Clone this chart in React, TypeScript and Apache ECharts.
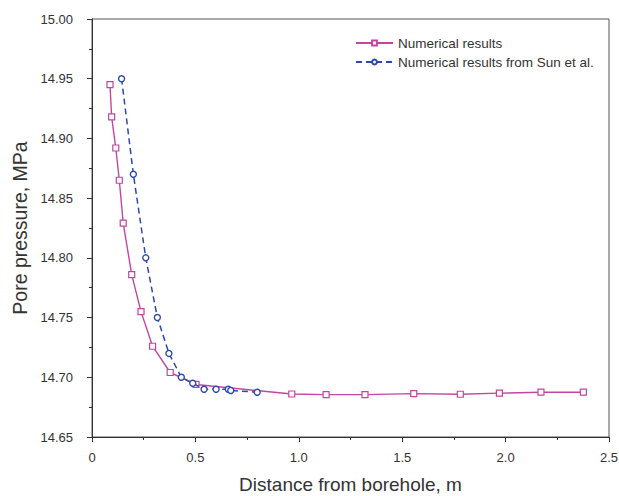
import React, { useEffect, useRef } from "react";
import * as echarts from "echarts";

const pinkX = [0.087, 0.095, 0.115, 0.132, 0.151, 0.192, 0.237, 0.293, 0.378, 0.503, 0.966, 1.132, 1.32, 1.556, 1.781, 1.97, 2.171, 2.376];
const pinkY = [14.945, 14.918, 14.892, 14.865, 14.829, 14.786, 14.755, 14.726, 14.704, 14.694, 14.686, 14.6855, 14.6855, 14.6863, 14.6858, 14.6867, 14.6875, 14.6875];

const blueX = [0.143, 0.2, 0.26, 0.316, 0.372, 0.432, 0.487, 0.542, 0.6, 0.659, 0.671, 0.799];
const blueY = [14.95, 14.87, 14.8, 14.75, 14.72, 14.7, 14.695, 14.69, 14.69, 14.69, 14.689, 14.6875];

const seriesNames = ["Numerical results", "Numerical results from Sun et al."];
const xName = "Distance from borehole, m";
const yName = "Pore pressure, MPa";

const FONT = "'Liberation Sans', Arial, sans-serif";
const PINK = "#c2469f";
const BLUE = "#2c48ad";

export default function App() {
  const ref = useRef<HTMLDivElement>(null);
  useEffect(() => {
    if (!ref.current) return;
    const chart = echarts.init(ref.current, null, { renderer: "svg" });
    chart.setOption({
      animation: false,
      backgroundColor: "#ffffff",
      grid: {
        left: 92,
        top: 19,
        right: 10,
        bottom: 59,
        containLabel: false,
        outerBoundsMode: "none",
        show: true,
        borderColor: "#555",
        borderWidth: 1,
      },
      legend: {
        orient: "vertical",
        left: 350,
        top: 31,
        itemWidth: 37,
        itemHeight: 6,
        itemGap: 5,
        textStyle: { fontFamily: FONT, fontSize: 13.5, color: "#333" },
        data: seriesNames,
      },
      xAxis: {
        type: "value",
        min: 0,
        max: 2.5,
        interval: 0.5,
        name: xName,
        nameLocation: "middle",
        nameGap: 38,
        nameTextStyle: { fontFamily: FONT, fontSize: 19, color: "#333" },
        axisLine: { show: true, lineStyle: { color: "#333", width: 1 } },
        axisTick: { show: true, inside: false, length: 5, lineStyle: { color: "#333" } },
        minorTick: { show: true, splitNumber: 2, length: 3, lineStyle: { color: "#333" } },
        splitLine: { show: false },
        axisLabel: {
          margin: 14,
          fontFamily: FONT,
          fontSize: 13,
          color: "#333",
          formatter: (v: number) => (v === 0 ? "0" : v.toFixed(1)),
        },
      },
      yAxis: {
        type: "value",
        min: 14.65,
        max: 15.0,
        interval: 0.05,
        name: yName,
        nameLocation: "middle",
        nameGap: 60,
        nameTextStyle: { fontFamily: FONT, fontSize: 19.5, color: "#333" },
        axisLine: { show: true, lineStyle: { color: "#333", width: 1 } },
        axisTick: { show: true, inside: false, length: 5, lineStyle: { color: "#333" } },
        minorTick: { show: true, splitNumber: 2, length: 3, lineStyle: { color: "#333" } },
        splitLine: { show: false },
        axisLabel: {
          margin: 19,
          fontFamily: FONT,
          fontSize: 13,
          color: "#333",
          formatter: (v: number) => v.toFixed(2),
        },
      },
      series: [
        {
          name: seriesNames[0],
          type: "line",
          data: pinkX.map((x, i) => [x, pinkY[i]]),
          symbol: "rect",
          symbolSize: 6,
          showAllSymbol: true,
          lineStyle: { color: PINK, width: 1.4 },
          itemStyle: { color: "#fff", borderColor: PINK, borderWidth: 1.2 },
          z: 2,
        },
        {
          name: seriesNames[1],
          type: "line",
          data: blueX.map((x, i) => [x, blueY[i]]),
          symbol: "circle",
          symbolSize: 6,
          showAllSymbol: true,
          lineStyle: { color: BLUE, width: 1.5, type: [6, 4] },
          itemStyle: { color: "#fff", borderColor: BLUE, borderWidth: 1.4 },
          z: 3,
        },
      ],
    });
    return () => chart.dispose();
  }, []);
  return <div ref={ref} style={{ width: 619, height: 496, position: "absolute", left: 0, top: 0 }} />;
}
